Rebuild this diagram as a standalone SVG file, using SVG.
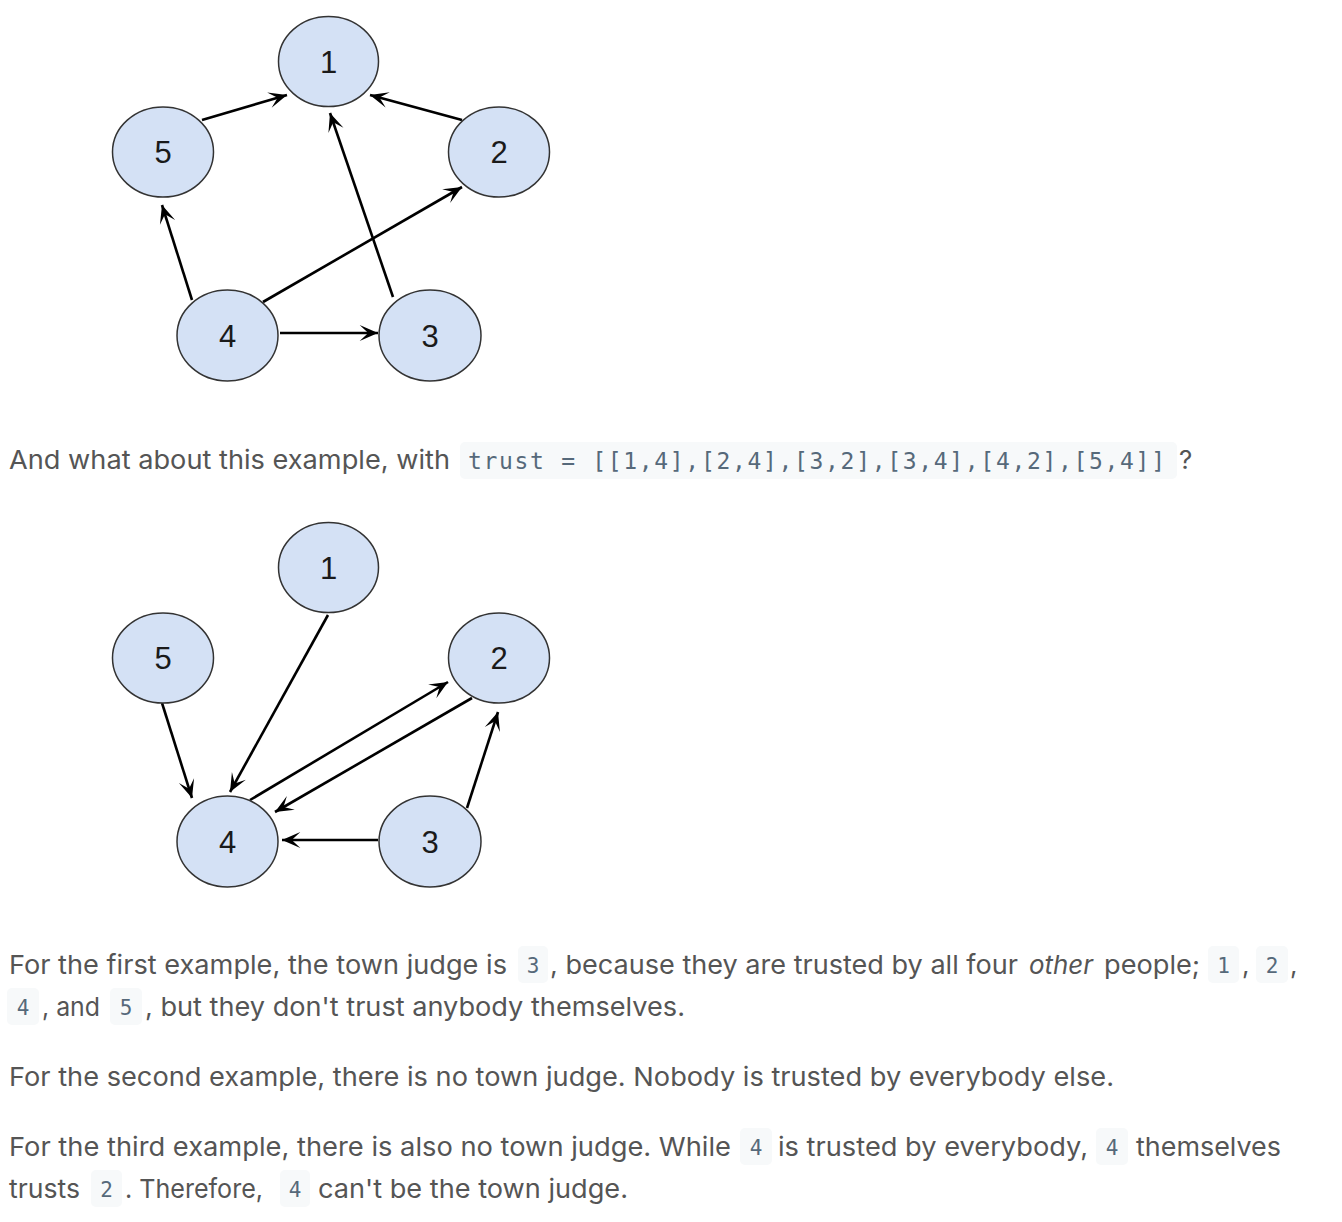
<svg xmlns="http://www.w3.org/2000/svg" width="1342" height="1222" viewBox="0 0 1342 1222">
<style>
.node ellipse{fill:#d4e1f5;stroke:#333;stroke-width:1.5}
.node text{font-family:"Liberation Sans",Arial,sans-serif;font-size:31px;fill:#1a1a1a;text-anchor:middle}
.edge{stroke:#000;stroke-width:2.6;fill:none;marker-end:url(#arr)}
.t{font-family:Inter,"Liberation Sans",sans-serif;font-size:26px;fill:#555}
.it{font-style:italic}
.code{font-family:"DejaVu Sans Mono","Liberation Mono",monospace;font-size:21px;fill:#56697a}
.code.big{font-size:23px}
.cb{fill:#f7f9fa}
</style>
<defs>
<marker id="arr" markerUnits="userSpaceOnUse" markerWidth="22" markerHeight="22" viewBox="-16 -9 18 18" refX="0" refY="0" orient="auto">
<path d="M0,0 L-15,-6.5 L-8,0 L-15,6.5 Z" fill="#000"/>
</marker>
</defs>
<rect width="1342" height="1222" fill="#fff"/>

<g id="graph1-connectors">
<line class="edge" x1="202" y1="120" x2="287" y2="95"/>
<line class="edge" x1="462" y1="120" x2="370" y2="95"/>
<line class="edge" x1="393" y1="297" x2="330" y2="113"/>
<line class="edge" x1="192" y1="300" x2="162" y2="205"/>
<line class="edge" x1="263" y1="302" x2="462" y2="187"/>
<line class="edge" x1="280" y1="333" x2="378" y2="333"/>
</g>
<g id="g1-n1" class="node"><ellipse cx="328.5" cy="61.5" rx="50" ry="45"/><text x="328.5" y="72.5">1</text></g>
<g id="g1-n5" class="node"><ellipse cx="163" cy="152" rx="50.5" ry="45"/><text x="163" y="163">5</text></g>
<g id="g1-n2" class="node"><ellipse cx="499" cy="152" rx="50.5" ry="45"/><text x="499" y="163">2</text></g>
<g id="g1-n4" class="node"><ellipse cx="227.5" cy="335.5" rx="50.5" ry="45.5"/><text x="227.5" y="346.5">4</text></g>
<g id="g1-n3" class="node"><ellipse cx="430" cy="335.5" rx="51" ry="45.5"/><text x="430" y="346.5">3</text></g>

<g id="line1">
<text class="t" x="9" y="469" textLength="441" lengthAdjust="spacingAndGlyphs">And what about this example, with</text>
<rect class="cb" x="460" y="442" width="717" height="37" rx="5"/>
<text class="code big" x="468" y="469" textLength="697" lengthAdjust="spacing">trust = [[1,4],[2,4],[3,2],[3,4],[4,2],[5,4]]</text>
<text class="t" x="1179" y="469">?</text>
</g>

<g id="graph2-connectors">
<line class="edge" x1="328" y1="615" x2="230" y2="792"/>
<line class="edge" x1="162" y1="703" x2="192" y2="798"/>
<line class="edge" x1="250" y1="800" x2="448" y2="682"/>
<line class="edge" x1="472" y1="698" x2="275" y2="812"/>
<line class="edge" x1="467" y1="808" x2="498" y2="712"/>
<line class="edge" x1="378" y1="840" x2="282" y2="840"/>
</g>
<g id="g2-n1" class="node"><ellipse cx="328.5" cy="567.5" rx="50" ry="45"/><text x="328.5" y="578.5">1</text></g>
<g id="g2-n5" class="node"><ellipse cx="163" cy="658" rx="50.5" ry="45"/><text x="163" y="669">5</text></g>
<g id="g2-n2" class="node"><ellipse cx="499" cy="658" rx="50.5" ry="45"/><text x="499" y="669">2</text></g>
<g id="g2-n4" class="node"><ellipse cx="227.5" cy="841.5" rx="50.5" ry="45.5"/><text x="227.5" y="852.5">4</text></g>
<g id="g2-n3" class="node"><ellipse cx="430" cy="841.5" rx="51" ry="45.5"/><text x="430" y="852.5">3</text></g>

<g id="para1">
<text class="t" x="9" y="974" textLength="498" lengthAdjust="spacingAndGlyphs">For the first example, the town judge is</text>
<rect class="cb" x="518" y="946" width="30" height="37" rx="5"/>
<text class="code" x="533" y="973" text-anchor="middle">3</text>
<text class="t" x="550" y="974" textLength="468" lengthAdjust="spacingAndGlyphs">, because they are trusted by all four</text>
<text class="t it" x="1029" y="974" textLength="64" lengthAdjust="spacingAndGlyphs">other</text>
<text class="t" x="1104" y="974" textLength="96" lengthAdjust="spacingAndGlyphs">people;</text>
<rect class="cb" x="1208" y="946" width="31" height="37" rx="5"/>
<text class="code" x="1223.5" y="973" text-anchor="middle">1</text>
<text class="t" x="1242" y="974">,</text>
<rect class="cb" x="1256" y="946" width="32" height="37" rx="5"/>
<text class="code" x="1272" y="973" text-anchor="middle">2</text>
<text class="t" x="1290" y="974">,</text>
<rect class="cb" x="7" y="988" width="32" height="37" rx="5"/>
<text class="code" x="23" y="1015" text-anchor="middle">4</text>
<text class="t" x="42" y="1016" textLength="58" lengthAdjust="spacingAndGlyphs">, and</text>
<rect class="cb" x="110" y="988" width="32" height="37" rx="5"/>
<text class="code" x="126" y="1015" text-anchor="middle">5</text>
<text class="t" x="145" y="1016" textLength="540" lengthAdjust="spacingAndGlyphs">, but they don't trust anybody themselves.</text>
</g>

<g id="para2">
<text class="t" x="9" y="1086" textLength="1105" lengthAdjust="spacingAndGlyphs">For the second example, there is no town judge. Nobody is trusted by everybody else.</text>
</g>

<g id="para3">
<text class="t" x="9" y="1156" textLength="722" lengthAdjust="spacingAndGlyphs">For the third example, there is also no town judge. While</text>
<rect class="cb" x="740" y="1128" width="32" height="37" rx="5"/>
<text class="code" x="756" y="1155" text-anchor="middle">4</text>
<text class="t" x="778" y="1156" textLength="310" lengthAdjust="spacingAndGlyphs">is trusted by everybody,</text>
<rect class="cb" x="1096" y="1128" width="32" height="37" rx="5"/>
<text class="code" x="1112" y="1155" text-anchor="middle">4</text>
<text class="t" x="1136" y="1156" textLength="145" lengthAdjust="spacingAndGlyphs">themselves</text>
<text class="t" x="9" y="1198" textLength="71" lengthAdjust="spacingAndGlyphs">trusts</text>
<rect class="cb" x="91" y="1170" width="31" height="37" rx="5"/>
<text class="code" x="106.5" y="1197" text-anchor="middle">2</text>
<text class="t" x="125" y="1198" textLength="138" lengthAdjust="spacingAndGlyphs">. Therefore,</text>
<rect class="cb" x="280" y="1170" width="30" height="37" rx="5"/>
<text class="code" x="295" y="1197" text-anchor="middle">4</text>
<text class="t" x="318" y="1198" textLength="310" lengthAdjust="spacingAndGlyphs">can't be the town judge.</text>
</g>
</svg>
